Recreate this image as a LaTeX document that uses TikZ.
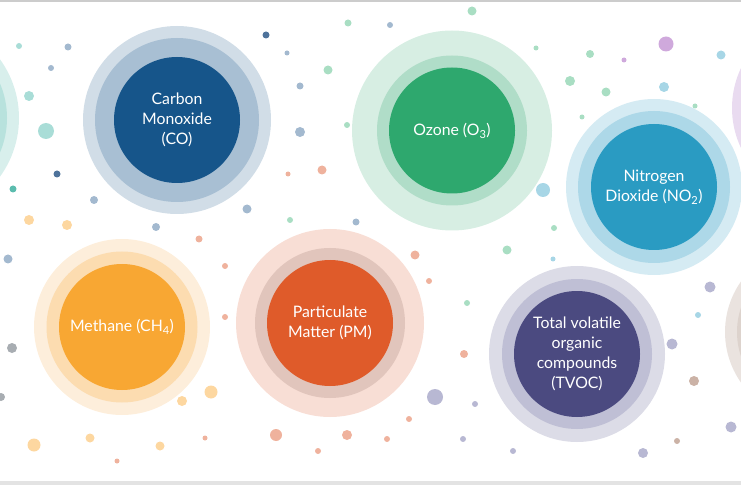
\documentclass[tikz,border=0pt]{standalone}
\usepackage{fontspec}
\setmainfont{Lato}
\definecolor{coIn}{HTML}{16558A}\definecolor{coMid}{HTML}{A8BFD3}\definecolor{coOut}{HTML}{D1DDE7}
\definecolor{ozIn}{HTML}{2EA86E}\definecolor{ozMid}{HTML}{B0DDC8}\definecolor{ozOut}{HTML}{D7EEE3}
\definecolor{noIn}{HTML}{2A9BC2}\definecolor{noMid}{HTML}{ADD8E8}\definecolor{noOut}{HTML}{D5EBF3}
\definecolor{chIn}{HTML}{F8A733}\definecolor{chMid}{HTML}{FCDCB0}\definecolor{chOut}{HTML}{FDEEDB}
\definecolor{pmIn}{HTML}{DF5B2A}\definecolor{pmMid}{HTML}{E1C5BC}\definecolor{pmOut}{HTML}{F8DED5}
\definecolor{tvIn}{HTML}{4B4A80}\definecolor{tvMid}{HTML}{BFBFD5}\definecolor{tvOut}{HTML}{DCDCE7}
\definecolor{tlMid}{HTML}{B8E2DD}\definecolor{tlOut}{HTML}{D8EFEC}
\definecolor{puOut}{HTML}{E9DBF0}
\definecolor{brMid}{HTML}{DDD3CD}\definecolor{brOut}{HTML}{EAE3DF}
\definecolor{dTeal}{HTML}{A9DDD7}\definecolor{dTealDk}{HTML}{5BBCAE}
\definecolor{dBlue}{HTML}{A3B9CF}\definecolor{dNavy}{HTML}{4E739B}
\definecolor{dGreen}{HTML}{A9DEC3}\definecolor{dSalmon}{HTML}{EFB29D}
\definecolor{dOrange}{HTML}{FDD7A0}\definecolor{dLav}{HTML}{B8B8D3}
\definecolor{dSky}{HTML}{A7D6E6}\definecolor{dPurple}{HTML}{CFA9DC}
\definecolor{dBrown}{HTML}{CBB2A6}\definecolor{dGray}{HTML}{A8ADB2}
\newcommand{\gasfont}{\fontsize{15.8}{20.2}\selectfont}
\begin{document}
\begin{tikzpicture}[x=1pt,y=-1pt,
  gas/.style={circle,minimum size=126pt,inner sep=0pt,align=center,text=white,font=\gasfont}]
 \useasboundingbox (0,0) rectangle (741,486);
 \clip (0,0) rectangle (741,486);
 \draw[color=black!20,line width=1.2pt](0,1)--(741,1);
 \fill[black!11](0,481)rectangle(741,484.5);
 % dots
 \fill[dTeal](19,46)circle(3pt);
 \fill[dBlue](68,47)circle(3.5pt);
 \fill[dBlue](51,68)circle(3pt);
 \fill[dTeal](29,96)circle(5pt);
 \fill[dTeal](46,131)circle(8pt);
 \fill[dNavy](57,174)circle(3.5pt);
 \fill[dTealDk](13,189)circle(3.5pt);
 \fill[dOrange](29,220)circle(5pt);
 \fill[dOrange](67,225)circle(5pt);
 \fill[dBlue](94,200)circle(4pt);
 \fill[dBlue](156,227)circle(4pt);
 \fill[dSalmon](199,239)circle(3.5pt);
 \fill[dBlue](247,209)circle(4.5pt);
 \fill[dNavy](266,35)circle(3.5pt);
 \fill[dBlue](287,53)circle(2.5pt);
 \fill[dBlue](300,86)circle(3.5pt);
 \fill[dBlue](300,132)circle(5pt);
 \fill[dGreen](328,70)circle(4.5pt);
 \fill[dGreen](348,23)circle(3.5pt);
 \fill[dGreen](347,125)circle(3pt);
 \fill[dSalmon](288,174)circle(2.5pt);
 \fill[dSalmon](322,170)circle(4.5pt);
 \fill[dGreen](290,220)circle(3pt);
 \fill[dBlue](356,222)circle(3.5pt);
 \fill[dGreen](472,11)circle(4.5pt);
 \fill[dBlue](390,25)circle(3pt);
 \fill[dGreen](536,48)circle(2.5pt);
 \fill[dGreen](590,54)circle(4pt);
 \fill[dPurple](666,44)circle(7.5pt);
 \fill[dPurple](624,60)circle(2.5pt);
 \fill[dSky](721,55)circle(4.5pt);
 \fill[dGreen](570,81)circle(5pt);
 \fill[dGreen](606,92)circle(4.5pt);
 \fill[dSky](664,87)circle(5pt);
 \fill[dGreen](695,106)circle(2.5pt);
 \fill[dGreen](582,117)circle(2.5pt);
 \fill[dSky](543,190)circle(7pt);
 \fill[dGreen](554,228)circle(3pt);
 \fill[dBlue](8,259)circle(4.5pt);
 \fill[dGray](12,348)circle(5pt);
 \fill[dGray](1,397)circle(4pt);
 \fill[dSalmon](225,266)circle(3pt);
 \fill[dSalmon](225,317)circle(3pt);
 \fill[dOrange](211,392)circle(6.5pt);
 \fill[dOrange](182,401)circle(5pt);
 \fill[dOrange](34,445)circle(6.5pt);
 \fill[dOrange](90,438)circle(4.5pt);
 \fill[dOrange](160,446)circle(4.5pt);
 \fill[dSalmon](117,461)circle(2.5pt);
 \fill[dSalmon](205,438)circle(2.5pt);
 \fill[dSalmon](276,435)circle(6pt);
 \fill[dSalmon](318,451)circle(3pt);
 \fill[dSalmon](347,435)circle(5pt);
 \fill[dSalmon](415,255)circle(4.5pt);
 \fill[dSalmon](429,281)circle(3pt);
 \fill[dGreen](507,250)circle(4.5pt);
 \fill[dSky](553,259)circle(2.5pt);
 \fill[dGreen](467,303)circle(3pt);
 \fill[dSalmon](464,354)circle(4pt);
 \fill[dLav](435,397)circle(8pt);
 \fill[dLav](475,404)circle(3pt);
 \fill[dSalmon](409,419)circle(3pt);
 \fill[dSalmon](387,439)circle(3pt);
 \fill[dLav](463,439)circle(3pt);
 \fill[dLav](513,451)circle(3pt);
 \fill[dLav](643,453)circle(5pt);
 \fill[dBrown](677,441)circle(3pt);
 \fill[dBrown](694,381)circle(5pt);
 \fill[dLav](672,344)circle(5.5pt);
 \fill[dLav](710,287)circle(5.5pt);
 \fill[dSky](698,315)circle(3pt);
 \fill[dLav](731,427)circle(5.5pt);
 % cut circles at the edges
 \coordinate (tl) at (-81,118);
 \fill[tlOut](tl)circle(100pt);
 \fill[tlMid](tl)circle(88pt);
 \coordinate (pu) at (825,108);
 \fill[puOut](pu)circle(93pt);
 \coordinate (br) at (813,332);
 \fill[brOut](br)circle(88pt);
 \fill[brMid](br)circle(76pt);
 % gases
 \coordinate (co) at (177,120);
 \fill[coOut](co)circle(94pt);
 \fill[coMid](co)circle(82pt);
 \node[gas,fill=coIn] (co-name) at (co) {Carbon\\Monoxide\\(CO)};
 \coordinate (oz) at (452,130.5);
 \fill[ozOut](oz)circle(100pt);
 \fill[ozMid](oz)circle(75pt);
 \node[gas,fill=ozIn] (oz-name) at (oz) {Ozone (O\textsubscript{3})};
 \coordinate (no) at (654,187);
 \fill[noOut](no)circle(88pt);
 \fill[noMid](no)circle(76pt);
 \node[gas,fill=noIn] (no-name) at (no) {Nitrogen\\Dioxide (NO\textsubscript{2})};
 \coordinate (ch) at (122,327);
 \fill[chOut](ch)circle(88pt);
 \fill[chMid](ch)circle(75.5pt);
 \node[gas,fill=chIn] (ch-name) at (ch) {Methane (CH\textsubscript{4})};
 \coordinate (pm) at (330,323);
 \fill[pmOut](pm)circle(94pt);
 \fill[pmMid](pm)circle(75pt);
 \node[gas,fill=pmIn] (pm-name) at (pm) {Particulate\\Matter (PM)};
 \coordinate (tv) at (577,354);
 \fill[tvOut](tv)circle(88pt);
 \fill[tvMid](tv)circle(75pt);
 \node[gas,fill=tvIn] (tv-name) at (tv) {Total volatile\\organic\\compounds\\(TVOC)};
\end{tikzpicture}
\end{document}
